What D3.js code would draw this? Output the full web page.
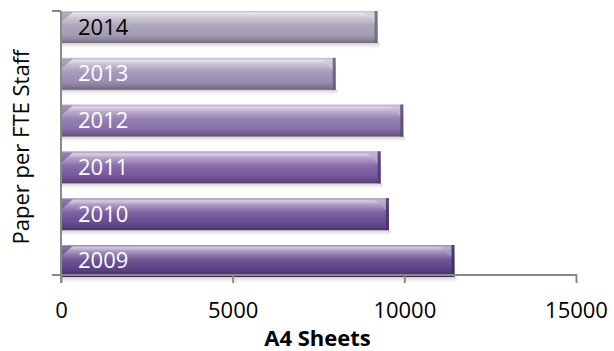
<!DOCTYPE html>
<html>
<head>
<meta charset="utf-8">
<script src="https://cdn.jsdelivr.net/npm/d3@7"></script>
<style>
  html, body { margin: 0; padding: 0; background: #fff; }
  svg { display: block; }
  text { font-family: "Open Sans", sans-serif; }
</style>
</head>
<body>
<svg id="chart" width="614" height="351"></svg>
<script>
// ---- data ----
const years = ["2014", "2013", "2012", "2011", "2010", "2009"];
const sheets = [9220, 8000, 9970, 9310, 9550, 11460];
const xTicks = [0, 5000, 10000, 15000];
const baseColors = ["#a49cb3", "#9a8eb0", "#8870a8", "#78589f", "#6a4c93", "#5c4286"];
const labelColors = ["#000000", "#ffffff", "#ffffff", "#ffffff", "#ffffff", "#ffffff"];
const xTitle = "A4 Sheets";
const yTitle = "Paper per FTE Staff";

// ---- layout ----
const svg = d3.select("#chart");
const x0 = 61, x1 = 576;
const yTop = 11, yBottom = 277, axisY = 275;
const axisColor = "#898989";

const x = d3.scaleLinear().domain([0, 15000]).range([x0, x1]);
const y = d3.scaleBand().domain(years).range([yTop, yBottom]).paddingInner(0.316).paddingOuter(0);

const defs = svg.append("defs");
years.forEach((yr, i) => {
  const c = d3.color(baseColors[i]);
  const hi = d3.interpolateRgb(c, "#ffffff")(0.72);
  const g = defs.append("linearGradient").attr("id", "g" + i)
    .attr("x1", 0).attr("y1", 0).attr("x2", 0).attr("y2", 1);
  [[0, d3.interpolateRgb(c, "#ffffff")(0.35)],
   [0.08, hi],
   [0.2, d3.interpolateRgb(c, "#ffffff")(0.45)],
   [0.45, d3.interpolateRgb(c, "#ffffff")(0.12)],
   [0.75, c.formatHex()],
   [0.9, c.darker(0.45).formatHex()],
   [1, c.darker(1.1).formatHex()]].forEach(([o, col]) => {
    g.append("stop").attr("offset", o).attr("stop-color", col);
  });
});
const sh = defs.append("linearGradient").attr("id", "shadow")
  .attr("x1", 0).attr("y1", 0).attr("x2", 0).attr("y2", 1);
sh.append("stop").attr("offset", 0).attr("stop-color", "#c8c8c8").attr("stop-opacity", 0.9);
sh.append("stop").attr("offset", 1).attr("stop-color", "#ffffff").attr("stop-opacity", 0);

const bars = svg.append("g").selectAll("g").data(years).join("g");

// shadows
bars.append("rect")
  .attr("x", x(0))
  .attr("y", d => y(d) + y.bandwidth())
  .attr("width", (d, i) => x(sheets[i]) - x(0) + 2)
  .attr("height", 7)
  .attr("fill", "url(#shadow)");

// bar bodies
bars.append("rect")
  .attr("x", x(0))
  .attr("y", d => y(d))
  .attr("width", (d, i) => x(sheets[i]) - x(0))
  .attr("height", y.bandwidth())
  .attr("fill", (d, i) => "url(#g" + i + ")");

// right bevel: light top-right triangle
bars.append("path")
  .attr("d", (d, i) => {
    const xe = x(sheets[i]), yt = y(d);
    return `M${xe - 14},${yt + 1} L${xe - 2},${yt + 1} L${xe - 2},${yt + 13} Z`;
  })
  .attr("fill", (d, i) => d3.interpolateRgb(baseColors[i], "#ffffff")(0.5))
  .attr("opacity", 0.65);
// right bevel: dark edge
bars.append("rect")
  .attr("x", (d, i) => x(sheets[i]) - 3)
  .attr("y", d => y(d))
  .attr("width", 3)
  .attr("height", y.bandwidth())
  .attr("fill", (d, i) => d3.color(baseColors[i]).darker(1.2).formatHex())
  .attr("opacity", 0.85);
// left bevel: small darker triangle
bars.append("path")
  .attr("d", d => {
    const xs = x(0), yt = y(d);
    return `M${xs},${yt + 1} L${xs + 12},${yt + 1} L${xs},${yt + 11} Z`;
  })
  .attr("fill", (d, i) => d3.color(baseColors[i]).darker(0.3).formatHex())
  .attr("opacity", 0.6);

// bar labels
bars.append("text")
  .attr("x", x(0) + 17)
  .attr("y", d => y(d) + y.bandwidth() / 2 + 7.5)
  .attr("font-size", 22)
  .attr("fill", (d, i) => labelColors[i])
  .text(d => d);

// x axis
const xAxis = d3.axisBottom(x).tickValues(xTicks).tickFormat(d3.format("d"))
  .tickSize(8).tickSizeOuter(0).tickPadding(19);
const gx = svg.append("g").attr("transform", `translate(0,${axisY})`).call(xAxis);
gx.select(".domain").remove();
gx.append("line").attr("x1", 52).attr("x2", x1 + 1).attr("y1", 0).attr("y2", 0)
  .attr("stroke", axisColor).attr("stroke-width", 2);
gx.selectAll(".tick line").attr("stroke", axisColor).attr("stroke-width", 2);
gx.selectAll(".tick text").attr("font-size", 22).attr("fill", "#000")
  .style("font-family", "'Open Sans', sans-serif");

// y axis line
svg.append("line").attr("x1", x0).attr("x2", x0).attr("y1", yTop).attr("y2", axisY + 8)
  .attr("stroke", axisColor).attr("stroke-width", 2);
svg.append("line").attr("x1", 52).attr("x2", x0).attr("y1", yTop).attr("y2", yTop)
  .attr("stroke", axisColor).attr("stroke-width", 2);

// titles
svg.append("text")
  .attr("x", (x0 + x1) / 2 - 1).attr("y", 346)
  .attr("text-anchor", "middle").attr("font-size", 22).attr("font-weight", "bold")
  .attr("fill", "#000").text(xTitle);
svg.append("text")
  .attr("transform", "translate(29,147) rotate(-90)")
  .attr("text-anchor", "middle").attr("font-size", 22)
  .attr("fill", "#000").text(yTitle);
</script>
</body>
</html>
